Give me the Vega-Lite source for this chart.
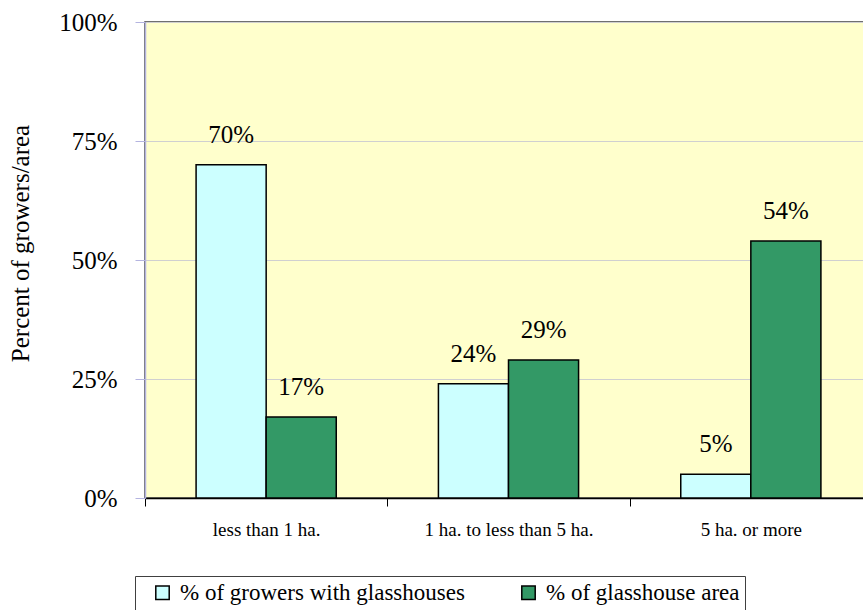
{
  "$schema": "https://vega.github.io/schema/vega-lite/v6.json",
  "width": 727,
  "height": 476,
  "autosize": {"type": "none"},
  "padding": {"left": 145, "top": 22, "right": 0, "bottom": 112},
  "background": "white",
  "config": {
    "font": "Times New Roman, Liberation Serif, serif",
    "view": {"fill": "#FFFFCC", "stroke": "#404040", "strokeWidth": 1.5}
  },
  "data": {
    "values": [
      {"size": "less than 1 ha.", "series": "% of growers with glasshouses", "value": 0.70},
      {"size": "less than 1 ha.", "series": "% of glasshouse area", "value": 0.17},
      {"size": "1 ha. to less than 5 ha.", "series": "% of growers with glasshouses", "value": 0.24},
      {"size": "1 ha. to less than 5 ha.", "series": "% of glasshouse area", "value": 0.29},
      {"size": "5 ha. or more", "series": "% of growers with glasshouses", "value": 0.05},
      {"size": "5 ha. or more", "series": "% of glasshouse area", "value": 0.54}
    ]
  },
  "encoding": {
    "x": {
      "field": "size", "type": "nominal", "sort": null,
      "scale": {"paddingInner": 0, "paddingOuter": 0},
      "axis": {
        "title": null, "labelAngle": 0, "labelFontSize": 19, "labelColor": "black",
        "labelPadding": 14, "domainColor": "black", "domainWidth": 1.5,
        "tickColor": "black", "tickSize": 8, "tickBand": "extent", "grid": false
      }
    },
    "xOffset": {
      "field": "series", "type": "nominal", "sort": ["% of growers with glasshouses", "% of glasshouse area"],
      "scale": {"paddingInner": 0, "paddingOuter": 0.729}
    },
    "y": {
      "field": "value", "type": "quantitative",
      "scale": {"domain": [0, 1], "nice": false},
      "axis": {
        "title": "Percent of growers/area", "titleFontSize": 25, "titleFontWeight": "normal",
        "titleColor": "black", "titlePadding": 25, "titleY": 221,
        "format": ".0%", "values": [0, 0.25, 0.5, 0.75, 1],
        "labelFontSize": 25, "labelColor": "black", "labelPadding": 18,
        "domainColor": "#B4B4E0", "domainWidth": 1.5, "tickColor": "#B4B4E0", "tickSize": 10,
        "grid": true, "gridColor": "#D0D0D0", "gridWidth": 1
      }
    }
  },
  "layer": [
    {
      "mark": {"type": "bar", "stroke": "black", "strokeWidth": 1.5},
      "encoding": {
        "color": {
          "field": "series", "type": "nominal",
          "sort": ["% of growers with glasshouses", "% of glasshouse area"],
          "scale": {"domain": ["% of growers with glasshouses", "% of glasshouse area"], "range": ["#CCFFFF", "#339966"]},
          "legend": {
            "title": null, "orient": "none", "direction": "horizontal",
            "legendX": -10, "legendY": 554,
            "strokeColor": "#404040", "padding": 5,
            "symbolType": "square", "symbolSize": 180, "symbolStrokeColor": "black", "symbolStrokeWidth": 1.5,
            "symbolOffset": 11, "labelOffset": 6,
            "labelFontSize": 23, "labelColor": "black", "labelLimit": 400,
            "columnPadding": 41
          }
        }
      }
    },
    {
      "mark": {"type": "text", "baseline": "bottom", "dy": -17, "fontSize": 25, "color": "black"},
      "encoding": {
        "text": {"field": "value", "type": "quantitative", "format": ".0%"}
      }
    }
  ]
}
